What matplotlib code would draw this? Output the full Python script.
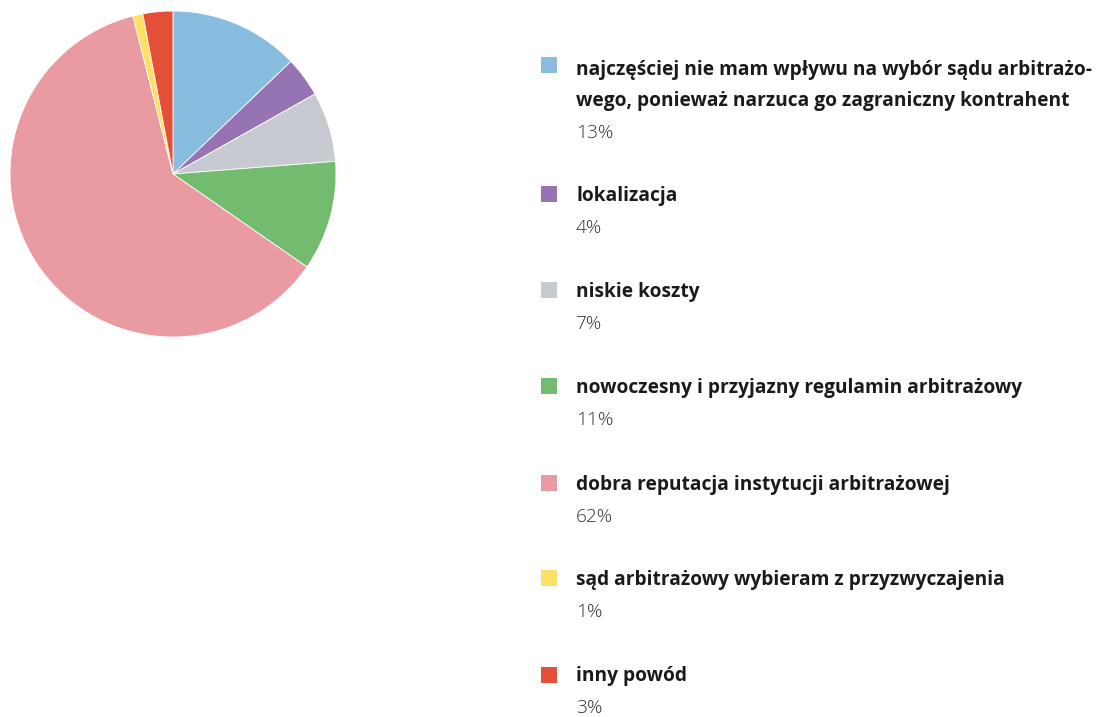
import matplotlib
matplotlib.use('Agg')
import matplotlib.pyplot as plt
from matplotlib.patches import Rectangle

### Dane
labels = [
    ['najczęściej nie mam wpływu na wybór sądu arbitrażo-',
     'wego, ponieważ narzuca go zagraniczny kontrahent'],
    ['lokalizacja'],
    ['niskie koszty'],
    ['nowoczesny i przyjazny regulamin arbitrażowy'],
    ['dobra reputacja instytucji arbitrażowej'],
    ['sąd arbitrażowy wybieram z przyzwyczajenia'],
    ['inny powód'],
]
values = [13, 4, 7, 11, 62, 1, 3]
colors = ['#89BDE0', '#9673B2', '#C7CBD1', '#73BC6F', '#EA9AA1', '#FFDF66', '#E35037']

W, H = 1099, 717
fig = plt.figure(figsize=(W / 100, H / 100), dpi=100)
fig.patch.set_facecolor('white')

### Wykres kołowy
ax = fig.add_axes([10 / W, (H - 337) / H, 326 / W, 326 / H])
ax.pie(values, colors=colors, startangle=90, counterclock=False,
       wedgeprops=dict(edgecolor='white', linewidth=0.6))
ax.set_xlim(-1, 1)
ax.set_ylim(-1, 1)
ax.set_aspect('equal')

### Legenda
label_y = [70, 196, 292, 388, 485, 580, 676]
square_y = [65, 194, 290, 386, 483, 578, 675]
for lines, val, col, ly, sy in zip(labels, values, colors, label_y, square_y):
    fig.patches.append(Rectangle((541 / W, 1 - (sy + 8) / H), 16 / W, 16 / H,
                                 transform=fig.transFigure, facecolor=col,
                                 edgecolor='none'))
    for i, line in enumerate(lines):
        fig.text(576 / W, 1 - (ly + 31 * i) / H, line, fontsize=13.8,
                 fontweight='bold', family='Open Sans', color='#1a1a1a',
                 va='center', ha='left')
    py = ly + 31 * len(lines) + 1
    fig.text(576 / W, 1 - py / H, f'{val}%', fontsize=13.8, fontweight='light',
             family='Open Sans', color='#333333', va='center', ha='left')

fig.savefig('out.png', dpi=100)
